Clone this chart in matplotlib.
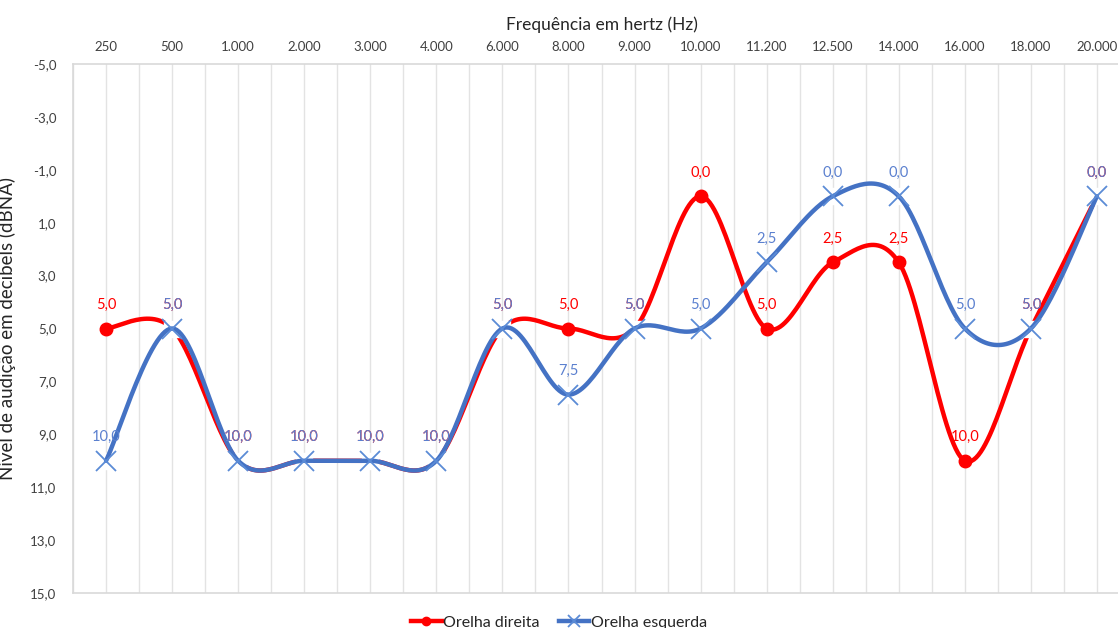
import numpy as np
import matplotlib.pyplot as plt

# ---- data ----
freqs = ['250', '500', '1.000', '2.000', '3.000', '4.000', '6.000', '8.000', '9.000',
         '10.000', '11.200', '12.500', '14.000', '16.000', '18.000', '20.000']
orelha_direita = [5, 5, 10, 10, 10, 10, 5, 5, 5, 0, 5, 2.5, 2.5, 10, 5, 0]
orelha_esquerda = [10, 5, 10, 10, 10, 10, 5, 7.5, 5, 5, 2.5, 0, 0, 5, 5, 0]
y_ticks = [-5, -3, -1, 1, 3, 5, 7, 9, 11, 13, 15]

RED = '#FF0000'
BLUE = '#4472C4'
LBL_BLUE = '#5B80CF'

plt.rcParams['font.family'] = ['Lato', 'DejaVu Sans']


def smooth(y, n=30):
    """Excel-like smoothed line (Catmull-Rom as cubic Bezier)."""
    y = np.asarray(y, dtype=float)
    x = np.arange(len(y), dtype=float)
    xs, ys = [], []
    for i in range(len(y) - 1):
        i0, i3 = max(i - 1, 0), min(i + 2, len(y) - 1)
        p0 = np.array([x[i], y[i]])
        p3 = np.array([x[i + 1], y[i + 1]])
        c1 = p0 + (np.array([x[i + 1], y[i + 1]]) - np.array([x[i0], y[i0]])) / 6
        c2 = p3 - (np.array([x[i3], y[i3]]) - np.array([x[i], y[i]])) / 6
        t = np.linspace(0, 1, n)[:, None]
        pts = ((1 - t) ** 3) * p0 + 3 * ((1 - t) ** 2) * t * c1 + 3 * (1 - t) * t ** 2 * c2 + t ** 3 * p3
        xs.extend(pts[:, 0])
        ys.extend(pts[:, 1])
    return np.array(xs), np.array(ys)


fig = plt.figure(figsize=(11.18, 6.28), dpi=100)
ax = fig.add_axes([73 / 1118, 35 / 628, 1057 / 1118, 529 / 628])

x = np.arange(len(freqs))

# gridlines at category centres and boundaries
for g in np.arange(-0.5, len(freqs), 0.5):
    ax.axvline(g, color='#E3E3E3', lw=1, zorder=0)

sx, sy = smooth(orelha_direita)
ax.plot(sx, sy, color=RED, lw=3.2, solid_capstyle='round', zorder=2)
ax.plot(x, orelha_direita, 'o', color=RED, ms=9, zorder=3)

# white fill of the blue markers (hides the red dots underneath, like Excel)
ax.plot(x, orelha_esquerda, 's', color='white', ms=12, zorder=3.5)

sx, sy = smooth(orelha_esquerda)
ax.plot(sx, sy, color=BLUE, lw=3.2, solid_capstyle='round', zorder=4)
ax.plot(x, orelha_esquerda, 'x', color='#5B8BD6', ms=15, mew=1.3, zorder=5)

# legend proxies
ax.plot([], [], '-o', color=RED, lw=3.2, ms=6, label='Orelha direita')
ax.plot([], [], '-x', color=BLUE, lw=3.2, ms=9, mew=1.3, mec='#5B8BD6', label='Orelha esquerda')

for xi, v in zip(x, orelha_direita):
    ax.annotate(f'{v:.1f}'.replace('.', ','), (xi, v), xytext=(0, 12),
                textcoords='offset points', ha='center', va='bottom',
                color=RED, fontsize=10.5, zorder=6)
for xi, v in zip(x, orelha_esquerda):
    ax.annotate(f'{v:.1f}'.replace('.', ','), (xi, v), xytext=(0, 12),
                textcoords='offset points', ha='center', va='bottom',
                color=LBL_BLUE, fontsize=10.5, zorder=7)

ax.set_xlim(-0.5, len(freqs) - 0.5)
ax.set_ylim(15, -5)
ax.set_yticks(y_ticks)
ax.set_yticklabels([f'{t:.1f}'.replace('.', ',') for t in y_ticks])
ax.set_xticks(x)
ax.set_xticklabels(freqs)
ax.xaxis.tick_top()
ax.xaxis.set_label_position('top')
ax.tick_params(length=0, labelsize=9.5, colors='#404040', pad=8)
ax.tick_params(axis='y', pad=12)
for s in ['left', 'top', 'bottom']:
    ax.spines[s].set_color('#D9D9D9')
    ax.spines[s].set_linewidth(1.2)
ax.spines['right'].set_visible(False)

ax.set_xlabel('Frequência em hertz (Hz)', fontsize=12.5, color='#262626', labelpad=8)
ax.set_ylabel('Nível de audição em decibels (dBNA)', fontsize=13.5, color='#262626', labelpad=10)

fig.legend(loc='lower center', bbox_to_anchor=(0.5, -0.026), ncol=2, frameon=False,
           fontsize=11.5, handlelength=1.9, handletextpad=0.1, columnspacing=1.2,
           labelcolor='#262626')

fig.savefig('out.png', dpi=100)
